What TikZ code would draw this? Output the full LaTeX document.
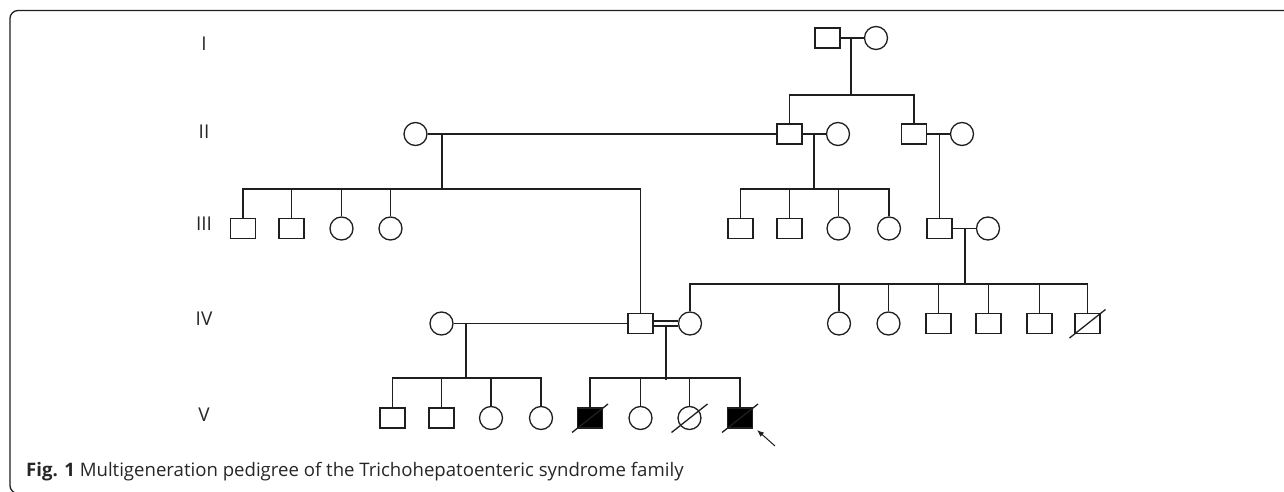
\documentclass[tikz,border=0pt]{standalone}
\usepackage{fontspec}
\setmainfont{Open Sans}
\usetikzlibrary{arrows.meta}
\begin{document}
\begin{tikzpicture}[x=1pt,y=-1pt,
  lk/.style={line width=1.3pt, draw=black!88},
  male/.style={draw=black!88, line width=1.3pt, rectangle, minimum width=25pt, minimum height=20pt, inner sep=0pt},
  female/.style={draw=black!88, line width=1.3pt, circle, minimum size=23pt, inner sep=0pt},
  affected/.style={fill=black},
  gen/.style={font=\fontsize{19}{19}\selectfont, inner sep=0pt, text=black!85},
  capt/.style={font=\fontsize{18.6}{18.6}\selectfont, inner sep=0pt, anchor=base west, text=black!85}
]
\useasboundingbox (0,0) rectangle (1284,492);
\begin{scope}
  \clip (0,0) rectangle (1284,492);
  \draw[lk, rounded corners=8pt] (10,10.5) rectangle (1330,493.5);
\end{scope}

% generation labels
\node[gen] (gI)   at (204,44)  {I};
\node[gen] (gII)  at (204,131.5) {II};
\node[gen] (gIII) at (204,223.5) {III};
\node[gen] (gIV)  at (204,319) {IV};
\node[gen] (gV)   at (204,415) {V};

% Generation I
\node[male]   (I1) at (827.5,38) {};
\node[female] (I2) at (876,38) {};

% Generation II
\node[female] (II1) at (415.5,134) {};
\node[male]   (II2) at (789.5,134) {};
\node[female] (II3) at (838,134) {};
\node[male]   (II4) at (914,134) {};
\node[female] (II5) at (962,134) {};

% Generation III
\node[male]   (III1) at (243,228.5) {};
\node[male]   (III2) at (291.5,228.5) {};
\node[female] (III3) at (341.5,228.5) {};
\node[female] (III4) at (390.5,228.5) {};
\node[male]   (III5) at (740.5,228.5) {};
\node[male]   (III6) at (789.5,228.5) {};
\node[female] (III7) at (838.5,228.5) {};
\node[female] (III8) at (889,228.5) {};
\node[male]   (III9) at (939.5,228.5) {};
\node[female] (III10) at (988,228.5) {};

% Generation IV
\node[female] (IV0) at (441.5,323.5) {};
\node[male]   (IV1) at (640.5,323.5) {};
\node[female] (IV2) at (690,323.5) {};
\node[female] (IV3) at (839,323.5) {};
\node[female] (IV4) at (888.5,323.5) {};
\node[male]   (IV5) at (938.5,323.5) {};
\node[male]   (IV6) at (988.5,323.5) {};
\node[male]   (IV7) at (1039.5,323.5) {};
\node[male]   (IV8) at (1087.5,323.5) {};

% Generation V
\node[male]   (V1) at (392.5,418) {};
\node[male]   (V2) at (441.5,418) {};
\node[female] (V3) at (491,418) {};
\node[female] (V4) at (541,418) {};
\node[male,affected] (V5) at (590,418) {};
\node[female] (V6) at (640.5,418) {};
\node[female] (V7) at (689.5,418) {};
\node[male,affected] (V8) at (740,418) {};

% ---------- couples and descent ----------
% I1 x I2
\draw[lk] (I1.east) -- (I2.west);
\coordinate (mI) at (851,38);
\coordinate (sI) at (851,95);
\draw[lk] (mI) -- (sI);
\draw[lk] (II2.north) -- (II2.north |- sI) -- (II4.north |- sI) -- (II4.north);

% II1 x II2
\draw[lk] (II1.east) -- (II2.west);
\coordinate (mA) at (442,134);
\coordinate (sA) at (442,189);
\draw[lk] (mA) -- (sA);
\draw[lk] (III1.north) -- (III1.north |- sA) -- (IV1.north |- sA) -- (IV1.north);
\foreach \c in {III2,III3,III4}{\draw[lk] (\c.north) -- (\c.north |- sA);}

% II2 x II3
\draw[lk] (II2.east) -- (II3.west);
\coordinate (mB) at (814,134);
\coordinate (sB) at (814,189);
\draw[lk] (mB) -- (sB);
\draw[lk] (III5.north) -- (III5.north |- sB) -- (III8.north |- sB) -- (III8.north);
\foreach \c in {III6,III7}{\draw[lk] (\c.north) -- (\c.north |- sB);}

% II4 x II5
\draw[lk] (II4.east) -- (II5.west);
\coordinate (mC) at (939.5,134);
\draw[lk] (mC) -- (III9.north);

% III9 x III10
\draw[lk] (III9.east) -- (III10.west);
\coordinate (mD) at (965,228.5);
\coordinate (sD) at (965,284);
\draw[lk] (mD) -- (sD);
\draw[lk] (IV2.north) -- (IV2.north |- sD) -- (IV8.north |- sD) -- (IV8.north);
\foreach \c in {IV3,IV4,IV5,IV6,IV7}{\draw[lk] (\c.north) -- (\c.north |- sD);}

% IV0 x IV1
\draw[lk] (IV0.east) -- (IV1.west);
\coordinate (mE) at (466,323.5);
\coordinate (sE) at (466,378);
\draw[lk] (mE) -- (sE);
\draw[lk] (V1.north) -- (V1.north |- sE) -- (V4.north |- sE) -- (V4.north);
\foreach \c in {V2,V3}{\draw[lk] (\c.north) -- (\c.north |- sE);}

% IV1 = IV2 (consanguineous)
\draw[lk] ([yshift=-2.4pt]IV1.east) -- ([yshift=-2.4pt]IV2.west);
\draw[lk] ([yshift=2.4pt]IV1.east) -- ([yshift=2.4pt]IV2.west);
\coordinate (mF) at (666,326);
\coordinate (sF) at (666,380);
\draw[lk] (mF) -- (sF);
\coordinate (sF2) at (666,378);
\draw[lk] (V5.north) -- (V5.north |- sF2) -- (V8.north |- sF2) -- (V8.north);
\foreach \c in {V6,V7}{\draw[lk] (\c.north) -- (\c.north |- sF2);}

% deceased slashes
\foreach \c in {IV8,V5,V7,V8}{
  \draw[lk] ([shift={(-18,14.5)}]\c.center) -- ([shift={(18,-14)}]\c.center);
}

% proband arrow
\coordinate (arT) at (775,446);
\coordinate (arH) at (757,430);
\draw[lk, line width=1pt, -{Latex[length=7pt,width=5.5pt]}] (arT) -- (arH);

% caption
\node[capt] (cap) at (26,476) {\textbf{Fig. 1} Multigeneration pedigree of the Trichohepatoenteric syndrome family};
\end{tikzpicture}
\end{document}
